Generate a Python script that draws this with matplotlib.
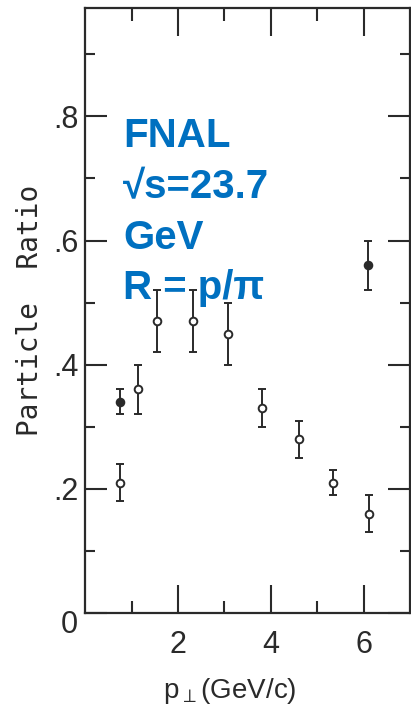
import matplotlib
matplotlib.use("Agg")
import matplotlib.pyplot as plt
from matplotlib.transforms import ScaledTranslation

# proton / pion ratio vs transverse momentum
open_pt = [0.75, 1.15, 1.54, 2.32, 3.07, 3.80, 4.61, 5.33, 6.11]
open_ratio = [0.21, 0.36, 0.47, 0.47, 0.45, 0.33, 0.28, 0.21, 0.16]
open_err = [0.03, 0.04, 0.05, 0.05, 0.05, 0.03, 0.03, 0.02, 0.03]

filled_pt = [0.75, 6.09]
filled_ratio = [0.34, 0.56]
filled_err = [0.02, 0.04]

x_major = [2, 4, 6]
x_minor = [1, 3, 5]
y_major = [0, 0.2, 0.4, 0.6, 0.8]
y_labels = ["0", ".2", ".4", ".6", ".8"]
y_minor = [0.1, 0.3, 0.5, 0.7, 0.9]

note_lines = ["FNAL", "\u221as=23.7", "GeV", "R = p/\u03c0"]

plt.rcParams["font.family"] = ["Liberation Sans", "DejaVu Sans"]
ink = "#2a2a2a"

fig = plt.figure(figsize=(4.11, 7.11), dpi=100)
ax = fig.add_axes([0.207, 0.138, 0.791, 0.851])

ax.errorbar(open_pt, open_ratio, yerr=open_err, fmt="o", mfc="white", mec=ink,
            ecolor=ink, ms=5.5, mew=1.4, elinewidth=1.4, capsize=3, capthick=1.4)
ax.errorbar(filled_pt, filled_ratio, yerr=filled_err, fmt="o", mfc=ink, mec=ink,
            ecolor=ink, ms=5.5, mew=1.4, elinewidth=1.4, capsize=3, capthick=1.4)

ax.set_xlim(0, 7)
ax.set_ylim(0, 0.975)

ax.set_xticks(x_major)
ax.set_xticks(x_minor, minor=True)
ax.set_yticks(y_major)
ax.set_yticklabels(y_labels)
ax.set_yticks(y_minor, minor=True)

ax.tick_params(axis="both", which="both", direction="in", top=True, right=True,
               color=ink, width=1.5, labelcolor=ink)
ax.tick_params(axis="x", which="major", length=20, labelsize=22, pad=12)
ax.tick_params(axis="x", which="minor", length=9)
ax.tick_params(axis="y", which="major", length=16, labelsize=22, pad=5)
ax.tick_params(axis="y", which="minor", length=7)

# the origin label sits a little below the x axis line
zero_lbl = ax.get_yticklabels()[0]
zero_lbl.set_transform(zero_lbl.get_transform() + ScaledTranslation(0, -0.09, fig.dpi_scale_trans))

for sp in ax.spines.values():
    sp.set_color(ink)
    sp.set_linewidth(1.6)

ax.set_ylabel("Particle  Ratio", fontsize=20, color=ink, labelpad=6,
              family=["DejaVu Sans Mono"])
fig.text(0.56, 0.018, r"p$_{\perp}$(GeV/c)", fontsize=20, color=ink, ha="center")

for i, line in enumerate(note_lines):
    ax.text(0.117, 0.770 - i * 0.084, line, transform=ax.transAxes, color="#0070C0",
            fontsize=29, fontweight="bold", va="baseline",
            family=["Liberation Sans", "DejaVu Sans"])

fig.savefig("out.png", dpi=100)
